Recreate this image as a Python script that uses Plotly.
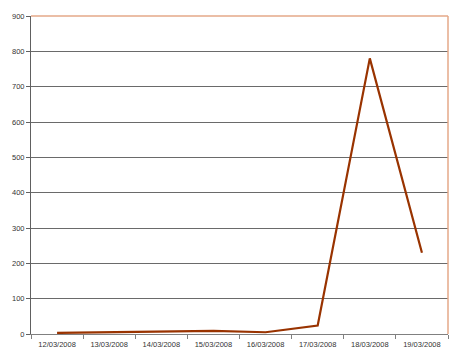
import plotly.graph_objects as go

dates = ["12/03/2008", "13/03/2008", "14/03/2008", "15/03/2008",
         "16/03/2008", "17/03/2008", "18/03/2008", "19/03/2008"]
values = [3, 5, 6, 9, 5, 24, 780, 230]
y_ticks = [0, 100, 200, 300, 400, 500, 600, 700, 800, 900]

fig = go.Figure()
fig.add_trace(go.Scatter(
    x=dates, y=values, mode="lines",
    line=dict(color="#993300", width=2.2),
    hoverinfo="x+y",
))

axis_font = dict(family="Liberation Sans", size=7.5, color="#333333")

fig.update_layout(
    width=463, height=362,
    margin=dict(l=29, r=15, t=16, b=28),
    paper_bgcolor="white", plot_bgcolor="white",
    showlegend=False,
    xaxis=dict(
        type="category", range=[-0.5, 7.5],
        showgrid=False, zeroline=False,
        showline=True, linecolor="#808080", linewidth=1,
        ticks="outside", tickson="boundaries", ticklen=4, tickcolor="#808080",
        tickfont=axis_font, ticklabelstandoff=3,
    ),
    yaxis=dict(
        range=[0, 900], tickvals=y_ticks,
        showgrid=True, gridcolor="#6a6a6a", gridwidth=1,
        zeroline=False,
        showline=True, linecolor="#606060", linewidth=1,
        ticks="outside", ticklen=4, tickcolor="#606060",
        tickfont=axis_font,
    ),
    shapes=[
        dict(type="line", xref="paper", yref="paper", x0=0, x1=1, y0=1, y1=1,
             line=dict(color="#E4A888", width=1.5)),
        dict(type="line", xref="paper", yref="paper", x0=1, x1=1, y0=0, y1=1,
             line=dict(color="#E4A888", width=1.5)),
    ],
)

fig.write_html("out.html")
